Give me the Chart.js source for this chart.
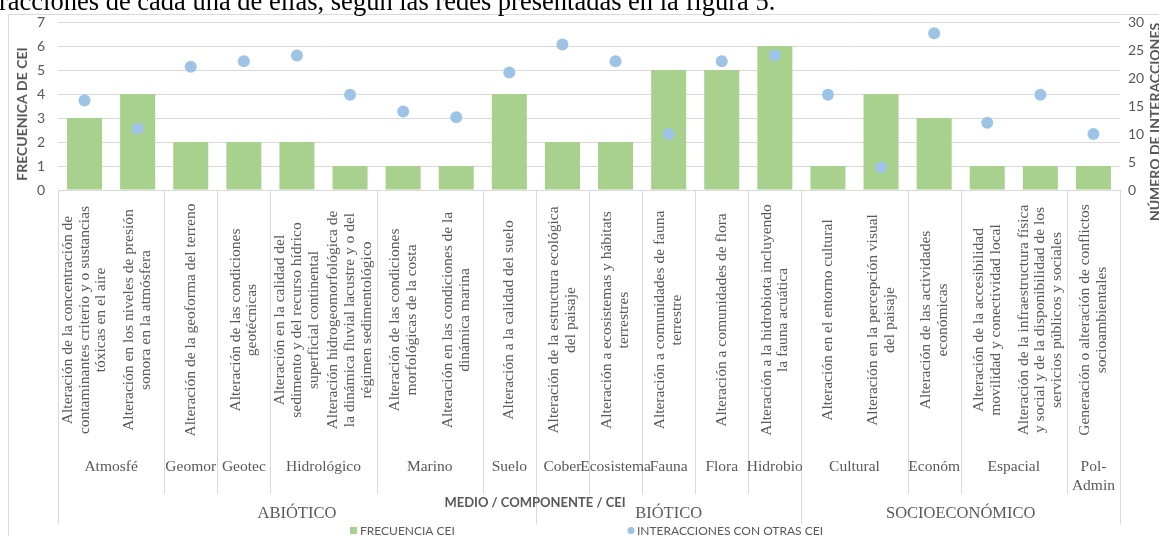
<!DOCTYPE html>
<html>
<head>
<meta charset="utf-8">
<script src="https://cdn.jsdelivr.net/npm/chart.js@4/dist/chart.umd.min.js"></script>
<style>
  html, body { margin: 0; padding: 0; background: #fff; }
  #wrap { position: relative; width: 1159px; height: 536px; overflow: hidden; }
</style>
</head>
<body>
<div id="wrap"><canvas id="grafico" width="1159" height="536"></canvas></div>
<script>
// Nivel 1 : CEI (etiquetas rotadas, una línea por elemento)
var cei = [
  ["Alteración de la concentración de", "contaminantes criterio y o sustancias", "tóxicas en el aire"],
  ["Alteración en los niveles de presión", "sonora en la atmósfera"],
  ["Alteración de la geoforma del terreno"],
  ["Alteración de las condiciones", "geotécnicas"],
  ["Alteración en la calidad del", "sedimento y del recurso hídrico", "superficial continental"],
  ["Alteración hidrogeomorfológica de", "la dinámica fluvial lacustre y o del", "régimen sedimentológico"],
  ["Alteración de las condiciones", "morfológicas de la costa"],
  ["Alteración en las condiciones de la", "dinámica marina"],
  ["Alteración a la calidad del suelo"],
  ["Alteración de la estructura ecológica", "del paisaje"],
  ["Alteración a ecosistemas y hábitats", "terrestres"],
  ["Alteración a comunidades de fauna", "terrestre"],
  ["Alteración a comunidades de flora"],
  ["Alteración a la hidrobiota incluyendo", "la fauna acuática"],
  ["Alteración en el entorno cultural"],
  ["Alteración en la percepción visual", "del paisaje"],
  ["Alteración de las actividades", "económicas"],
  ["Alteración de la accesibilidad", "movilidad y conectividad local"],
  ["Alteración de la infraestructura física", "y social y de la disponibilidad de los", "servicios públicos y sociales"],
  ["Generación o alteración de conflictos", "socioambientales"]
];

// Nivel 2 : componente y número de CEI que agrupa
var componentes = ["Atmosfé", "Geomor", "Geotec", "Hidrológico", "Marino", "Suelo", "Cober", "Ecosistema",
  "Fauna", "Flora", "Hidrobio", "Cultural", "Económ", "Espacial", "Pol-\nAdmin"];
var componentesN = [2, 1, 1, 2, 2, 1, 1, 1, 1, 1, 1, 2, 1, 2, 1];

// Nivel 3 : medio
var medios = ["ABIÓTICO", "BIÓTICO", "SOCIOECONÓMICO"];
var mediosN = [9, 5, 6];

// Series
var frecuencia = [3, 4, 2, 2, 2, 1, 1, 1, 4, 2, 2, 5, 5, 6, 1, 4, 3, 1, 1, 1];
var interacciones = [16, 11, 22, 23, 24, 17, 14, 13, 21, 26, 23, 10, 23, 24, 17, 4, 28, 12, 17, 10];

var ticksIzq = [0, 1, 2, 3, 4, 5, 6, 7];
var ticksDer = [0, 5, 10, 15, 20, 25, 30];

var GRIS = "#595959";
var LINEA = "#d9d9d9";
var VERDE = "#a9d18e";
var AZUL = "#9dc3e6";
var SERIF = '"Liberation Serif", "Times New Roman", serif';
var SANS = 'Lato, "Open Sans", sans-serif';

var etiquetas = cei.map(function (l) { return l.join(" "); });

// Dibuja los ejes de categoría de varios niveles, títulos y leyenda
var ejesMultinivel = {
  id: "ejesMultinivel",
  afterDraw: function (chart) {
    var ctx = chart.ctx;
    var xs = chart.scales.x;
    var y0 = chart.chartArea.bottom;

    function borde(i) {
      if (i <= 0) return xs.left;
      if (i >= cei.length) return xs.right;
      return (xs.getPixelForValue(i - 1) + xs.getPixelForValue(i)) / 2;
    }

    ctx.save();

    // marco del gráfico
    ctx.strokeStyle = LINEA;
    ctx.lineWidth = 1;
    ctx.beginPath();
    ctx.moveTo(8.5, 600);
    ctx.lineTo(8.5, 14.5);
    ctx.lineTo(1200, 14.5);
    ctx.stroke();

    // texto del documento cortado arriba
    ctx.fillStyle = "#000";
    ctx.font = "26.5px " + SERIF;
    ctx.textAlign = "left";
    ctx.textBaseline = "alphabetic";
    ctx.fillText("racciones de cada una de ellas, según las redes presentadas en la figura 5.", -1, 10);

    // separadores
    ctx.strokeStyle = LINEA;
    var pos = 0;
    var bordesComp = [0];
    componentesN.forEach(function (n) { pos += n; bordesComp.push(pos); });
    bordesComp.forEach(function (b) {
      var x = Math.round(borde(b)) + 0.5;
      ctx.beginPath(); ctx.moveTo(x, y0); ctx.lineTo(x, 494); ctx.stroke();
    });
    pos = 0;
    var bordesMed = [0];
    mediosN.forEach(function (n) { pos += n; bordesMed.push(pos); });
    bordesMed.forEach(function (b) {
      var x = Math.round(borde(b)) + 0.5;
      ctx.beginPath(); ctx.moveTo(x, y0); ctx.lineTo(x, 524); ctx.stroke();
    });

    // nivel 1: CEI rotadas
    ctx.fillStyle = GRIS;
    ctx.font = "15.5px " + SERIF;
    ctx.textAlign = "center";
    ctx.textBaseline = "middle";
    cei.forEach(function (lineas, i) {
      ctx.save();
      ctx.translate(xs.getPixelForValue(i), 320);
      ctx.rotate(-Math.PI / 2);
      lineas.forEach(function (t, j) {
        ctx.fillText(t, 0, (j - (lineas.length - 1) / 2) * 16.8);
      });
      ctx.restore();
    });

    // nivel 2: componentes
    ctx.font = "15.5px " + SERIF;
    pos = 0;
    componentes.forEach(function (c, k) {
      var xc = (borde(pos) + borde(pos + componentesN[k])) / 2;
      c.split("\n").forEach(function (t, j) {
        ctx.fillText(t, xc, 467 + j * 19);
      });
      pos += componentesN[k];
    });

    // nivel 3: medios
    ctx.font = "16.5px " + SERIF;
    pos = 0;
    medios.forEach(function (m, k) {
      var xc = (borde(pos) + borde(pos + mediosN[k])) / 2;
      ctx.fillText(m, xc, 514);
      pos += mediosN[k];
    });

    // título eje X
    ctx.font = "bold 13px " + SANS;
    ctx.fillText("MEDIO / COMPONENTE / CEI", 535, 503);

    // títulos ejes Y
    ctx.font = "bold 14px " + SANS;
    ctx.save();
    ctx.translate(22, 114);
    ctx.rotate(-Math.PI / 2);
    ctx.fillText("FRECUENICA DE CEI", 0, 0);
    ctx.restore();
    ctx.save();
    ctx.translate(1155, 122);
    ctx.rotate(-Math.PI / 2);
    ctx.fillText("NÚMERO DE INTERACCIONES", 0, 0);
    ctx.restore();

    // leyenda
    ctx.font = "12px " + SANS;
    ctx.textAlign = "left";
    ctx.fillStyle = VERDE;
    ctx.fillRect(350, 527, 7, 7);
    ctx.fillStyle = GRIS;
    ctx.fillText(chart.data.datasets[0].label, 360, 531);
    ctx.fillStyle = AZUL;
    ctx.beginPath(); ctx.arc(631, 530.5, 3.5, 0, Math.PI * 2); ctx.fill();
    ctx.fillStyle = GRIS;
    ctx.fillText(chart.data.datasets[1].label, 637, 531);

    ctx.restore();
  }
};

var ctx = document.getElementById("grafico").getContext("2d");
var grafico = new Chart(ctx, {
  type: "bar",
  data: {
    labels: etiquetas,
    datasets: [
      {
        label: "FRECUENCIA CEI",
        data: frecuencia,
        backgroundColor: VERDE,
        yAxisID: "y",
        barPercentage: 0.66,
        categoryPercentage: 1,
        order: 2
      },
      {
        label: "INTERACCIONES CON OTRAS CEI",
        type: "line",
        data: interacciones,
        showLine: false,
        pointRadius: 6,
        pointBackgroundColor: AZUL,
        pointBorderWidth: 0,
        yAxisID: "y1",
        order: 1
      }
    ]
  },
  options: {
    responsive: false,
    animation: false,
    layout: { padding: { top: 22, left: 0, right: 0, bottom: 0 } },
    plugins: { legend: { display: false }, tooltip: { enabled: false } },
    scales: {
      x: {
        grid: { display: false },
        border: { display: true, color: LINEA },
        ticks: { display: false },
        afterFit: function (s) { s.height = 346; }
      },
      y: {
        position: "left",
        min: 0,
        max: 7,
        border: { display: false },
        grid: {
          drawTicks: false,
          color: function (c) { return Number.isInteger(c.tick.value) ? LINEA : "#eeeeee"; }
        },
        ticks: {
          stepSize: 0.5,
          padding: 13,
          color: GRIS,
          font: { family: SANS, size: 14 },
          callback: function (v) { return ticksIzq.indexOf(v) >= 0 ? v : ""; }
        },
        afterFit: function (s) { s.width = 58; }
      },
      y1: {
        position: "right",
        min: 0,
        max: 30,
        border: { display: false },
        grid: { display: false, drawTicks: false },
        ticks: {
          stepSize: 5,
          padding: 8,
          color: GRIS,
          font: { family: SANS, size: 14 },
          callback: function (v) { return ticksDer.indexOf(v) >= 0 ? v : ""; }
        },
        afterFit: function (s) { s.width = 39; }
      }
    }
  },
  plugins: [ejesMultinivel]
});
</script>
</body>
</html>
